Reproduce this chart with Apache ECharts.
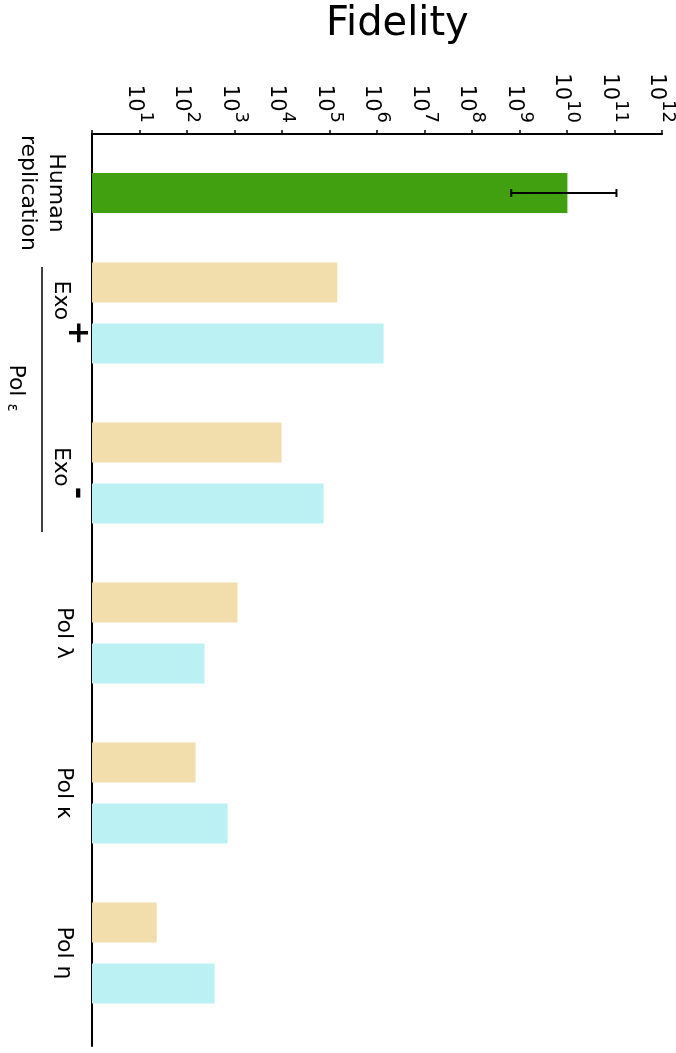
<!DOCTYPE html>
<html>
<head>
<meta charset="utf-8">
<script src="https://cdn.jsdelivr.net/npm/echarts@6/dist/echarts.min.js"></script>
<style>
  html, body { margin: 0; padding: 0; background: #fff; }
  #chart { width: 676px; height: 1053px; }
</style>
</head>
<body>
<div id="chart"></div>
<script>
// data
const humanLabel = ["Human\nreplication"];
const humanFidelity = [1.02e10];
const humanError = [[6.7e8, 1.1e11, 0]]; // low, high, category index
const groupLabels = ["Exo+", "Exo-", "Pol λ", "Pol κ", "Pol η"];
const tanFidelity = [1.46e5, 9.8e3, 1.16e3, 151, 23];
const cyanFidelity = [1.38e6, 7.5e4, 234, 714, 380];
const axisMin = 1;
const axisMax = 1e12;

const font = "DejaVu Sans";
const gridLeft = 92;
const gridWidth = 570;

const myChart = echarts.init(document.getElementById("chart"));

function logAxis(index, show) {
  return {
    type: "log",
    logBase: 10,
    min: axisMin,
    max: axisMax,
    interval: 1,
    splitNumber: 12,
    gridIndex: index,
    position: "top",
    show: show,
    axisLine: { show: true, onZero: false, lineStyle: { color: "#000", width: 2 } },
    axisTick: { show: true, length: 4, lineStyle: { color: "#000", width: 1.5 } },
    splitLine: { show: false },
    axisLabel: {
      show: show,
      // v6 turns top-axis labels the other way round
      rotate: 90,
      margin: 11,
      formatter: (v) => {
        const e = Math.round(Math.log10(v));
        if (e === 0) return "";
        return "{b|10}{s|" + e + "}";
      },
      rich: {
        b: { fontFamily: font, fontSize: 21, color: "#000", lineHeight: 22, verticalAlign: "bottom" },
        s: { fontFamily: font, fontSize: 18, color: "#000", lineHeight: 32, padding: [0, 0, 13, 0], verticalAlign: "bottom" },
      },
    },
  };
}

let option = {
  backgroundColor: "#fff",
  animation: false,
  title: {
    text: "Fidelity",
    left: 321,
    top: 0,
    textStyle: { fontFamily: font, fontSize: 40, fontWeight: "normal", color: "#000" },
  },
  grid: [
    // frame: top axis and left line
    { left: gridLeft, width: gridWidth, top: 134, bottom: 7, outerBoundsMode: "none" },
    // human replication
    { left: gridLeft, width: gridWidth, top: 133, height: 120, outerBoundsMode: "none" },
    // polymerases
    { left: gridLeft, width: gridWidth, top: 233, height: 800, outerBoundsMode: "none" },
  ],
  xAxis: [logAxis(0, true), logAxis(1, false), logAxis(2, false)],
  yAxis: [
    {
      type: "value",
      gridIndex: 0,
      min: 0,
      max: 1,
      axisLine: { show: true, onZero: false, lineStyle: { color: "#000", width: 2 } },
      axisTick: { show: false },
      axisLabel: { show: false },
      splitLine: { show: false },
    },
    {
      type: "category",
      gridIndex: 1,
      data: humanLabel,
      axisLine: { show: false },
      axisTick: { show: false },
      axisLabel: {
        rotate: -90,
        margin: 22,
        fontFamily: font,
        fontSize: 22,
        lineHeight: 28,
        color: "#000",
      },
    },
    {
      type: "category",
      gridIndex: 2,
      inverse: true,
      data: groupLabels,
      axisLine: { show: false },
      axisTick: { show: false },
      axisLabel: {
        rotate: -90,
        margin: 12,
        formatter: (v) => {
          if (v.indexOf("Exo") === 0) return "{e|Exo}{p|" + v.slice(3) + "}";
          return "{l|" + v + "}";
        },
        rich: {
          e: { fontFamily: font, fontSize: 22, color: "#000", lineHeight: 30, verticalAlign: "bottom" },
          p: { fontFamily: font, fontSize: 30, fontWeight: "bold", color: "#000", lineHeight: 30, padding: [0, 0, 12, 0], verticalAlign: "bottom" },
          l: { fontFamily: font, fontSize: 22, color: "#000", lineHeight: 30, padding: [0, 0, 3, 0], verticalAlign: "bottom" },
        },
      },
    },
  ],
  graphic: [
    {
      type: "line",
      shape: { x1: 42, y1: 267, x2: 42, y2: 532 },
      style: { stroke: "#000", lineWidth: 1.5 },
    },
    {
      type: "text",
      x: 15.5,
      y: 388,
      rotation: -Math.PI / 2,
      style: {
        text: "{l|Pol }{g|ε}",
        align: "center",
        verticalAlign: "middle",
        rich: {
          l: { fontFamily: font, fontSize: 22, fill: "#000", verticalAlign: "bottom" },
          g: { fontFamily: font, fontSize: 15, fill: "#000", verticalAlign: "bottom" },
        },
      },
    },
  ],
  series: [
    {
      type: "bar",
      xAxisIndex: 1,
      yAxisIndex: 1,
      barWidth: 40,
      itemStyle: { color: "#40a010" },
      data: humanFidelity,
    },
    {
      type: "custom",
      xAxisIndex: 1,
      yAxisIndex: 1,
      encode: { x: [0, 1], y: 2 },
      data: humanError,
      z: 5,
      renderItem: (params, api) => {
        const lo = api.coord([api.value(0), api.value(2)]);
        const hi = api.coord([api.value(1), api.value(2)]);
        const cap = 4;
        const st = { stroke: "#000", lineWidth: 2 };
        return {
          type: "group",
          children: [
            { type: "line", shape: { x1: lo[0], y1: lo[1], x2: hi[0], y2: hi[1] }, style: st },
            { type: "line", shape: { x1: lo[0], y1: lo[1] - cap, x2: lo[0], y2: lo[1] + cap }, style: st },
            { type: "line", shape: { x1: hi[0], y1: hi[1] - cap, x2: hi[0], y2: hi[1] + cap }, style: st },
          ],
        };
      },
    },
    {
      type: "bar",
      xAxisIndex: 2,
      yAxisIndex: 2,
      barWidth: 40,
      barGap: "52%",
      itemStyle: { color: "#f1deac" },
      data: tanFidelity,
    },
    {
      type: "bar",
      xAxisIndex: 2,
      yAxisIndex: 2,
      barWidth: 40,
      barGap: "52%",
      itemStyle: { color: "#bbf1f3" },
      data: cyanFidelity,
    },
  ],
};

option && myChart.setOption(option);
</script>
</body>
</html>
